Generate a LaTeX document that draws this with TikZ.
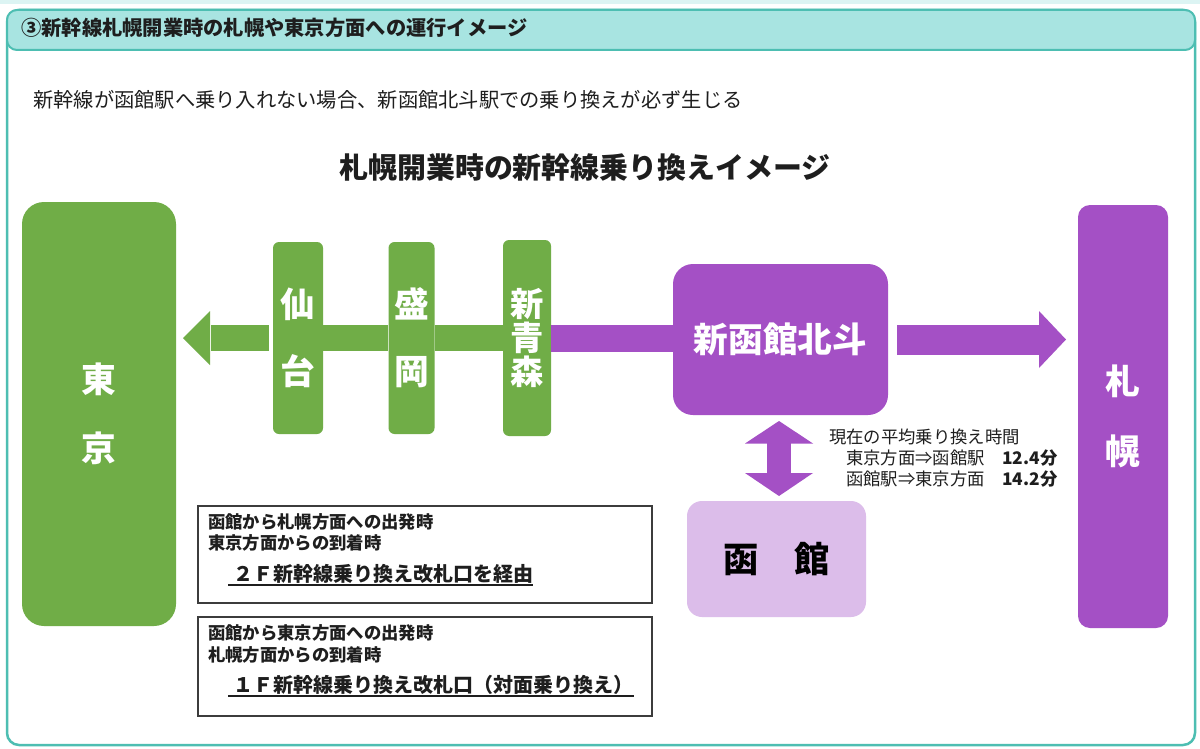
\documentclass[tikz,border=0pt]{standalone}
\usepackage{fontspec}
\setmainfont{Noto Sans CJK JP}
\usetikzlibrary{calc}
\newlength\px \setlength\px{0.75pt}
\definecolor{tgreen}{RGB}{112,173,71}
\definecolor{tpurple}{RGB}{164,80,197}
\definecolor{tlilac}{RGB}{220,189,234}
\definecolor{tteal}{RGB}{77,190,178}
\definecolor{theader}{RGB}{168,228,225}
\definecolor{tgrey}{RGB}{60,60,60}
\definecolor{ttext}{RGB}{30,30,30}
\tikzset{
  frame/.style={draw=tteal, line width=2.5\px, rounded corners=12\px},
  headerbar/.style={draw=tteal, fill=theader, line width=2\px, rounded corners=10\px},
  gstation/.style={fill=tgreen, rounded corners=6\px, inner sep=0pt, text=white, align=center},
  pstation/.style={fill=tpurple, inner sep=0pt, text=white, align=center},
  gline/.style={draw=tgreen, line width=26\px},
  pline/.style={draw=tpurple, line width=27\px},
  infobox/.style={draw=tgrey, line width=1.5\px, inner sep=0pt},
  txt/.style={anchor=west, inner sep=0pt, text=ttext},
  uline/.style={draw=ttext, line width=1.3\px},
}
\begin{document}
\begin{tikzpicture}[x=0.75pt, y=-0.75pt]
\useasboundingbox (0,0) rectangle (1200,749);
\fill[white] (0,0) rectangle (1200,749);
\fill[theader!40] (0,0) rectangle (1200,4);
% frame and header
\draw[frame] (7,10) rectangle (1195,745);
\draw[headerbar] (7,10) rectangle (1195,50);
\node[txt, font=\fontsize{15.2}{18}\selectfont\bfseries] (title) at (21,28) {③新幹線札幌開業時の札幌や東京方面への運行イメージ};
\node[txt, font=\fontsize{15.2}{18}\selectfont] (sub) at (33,100) {新幹線が函館駅へ乗り入れない場合、新函館北斗駅での乗り換えが必ず生じる};
\node[inner sep=0pt, text=ttext, font=\fontsize{21.7}{26}\selectfont\bfseries] (heading) at (585,168) {札幌開業時の新幹線乗り換えイメージ};
% stations
\node[gstation, rounded corners=22\px, minimum width=154\px, minimum height=424\px, font=\fontsize{26}{52}\selectfont\bfseries] (tokyo) at (99,414) {東\\京};
\node[gstation, minimum width=50\px, minimum height=192\px, font=\fontsize{26}{50}\selectfont\bfseries] (sendai) at (298,338) {仙\\台};
\node[gstation, minimum width=46\px, minimum height=192\px, font=\fontsize{26}{50}\selectfont\bfseries] (morioka) at (411.5,338) {盛\\岡};
\node[gstation, minimum width=48\px, minimum height=196\px, font=\fontsize{25}{25.5}\selectfont\bfseries] (shinaomori) at (527,338) {新\\青\\森};
\node[pstation, rounded corners=20\px, minimum width=215\px, minimum height=151\px, font=\fontsize{26}{30}\selectfont\bfseries] (hokuto) at (780.5,339.5) {\raisebox{3.5pt}{新函館北斗}};
\node[pstation, rounded corners=12\px, minimum width=90\px, minimum height=423\px, font=\fontsize{26}{52.5}\selectfont\bfseries] (sapporo) at (1123,416.5) {札\\幌};
\node[fill=tlilac, rounded corners=15\px, inner sep=0pt, minimum width=179\px, minimum height=116\px, text=black, font=\fontsize{26.5}{30}\selectfont\bfseries] (hakodate) at (776.5,559) {\raisebox{2.5pt}{函　館}};
% connectors
\draw[gline] (sendai.east) -- (morioka.west);
\draw[gline] (morioka.east) -- (shinaomori.west);
\draw[pline] (shinaomori.east) -- (shinaomori.east -| hokuto.west);
\coordinate (ltip) at (183,338);
\draw[gline, shorten <=4\px] (sendai.west) -- (211,338);
\fill[tgreen] (210,311) -- (ltip) -- (210,365) -- cycle;
\coordinate (rtip) at (1066,339.5);
\draw[draw=tpurple, line width=30\px, shorten <=9\px] (hokuto.east) -- (1040,339.5);
\fill[tpurple] (1039,311) -- (rtip) -- (1039,368) -- cycle;
\coordinate (dtop) at (779,421);
\coordinate (dbot) at (779,496);
\draw[draw=tpurple, line width=24\px] (779,442) -- (779,474);
\fill[tpurple] (dtop) -- (813,443.5) -- (745,443.5) -- cycle;
\fill[tpurple] (dbot) -- (745,473) -- (813,473) -- cycle;
% notes
\node[txt, font=\fontsize{13}{16}\selectfont] (n1) at (829,437) {現在の平均乗り換え時間};
\node[txt, font=\fontsize{13}{16}\selectfont] (n2) at (846,458) {東京方面⇒函館駅};
\node[txt, font=\fontsize{13}{16}\selectfont\bfseries] (n2v) at (1002,458) {12.4分};
\node[txt, font=\fontsize{13}{16}\selectfont] (n3) at (846,479) {函館駅⇒東京方面};
\node[txt, font=\fontsize{13}{16}\selectfont\bfseries] (n3v) at (1002,479) {14.2分};
% info boxes
\node[infobox, minimum width=454\px, minimum height=97\px] (box1) at (425,554.5) {};
\node[txt, font=\fontsize{13}{16}\selectfont\bfseries] (b1a) at (208,522) {函館から札幌方面への出発時};
\node[txt, font=\fontsize{13}{16}\selectfont\bfseries] (b1b) at (208,543) {東京方面からの到着時};
\node[txt, font=\fontsize{15}{18}\selectfont\bfseries] (b1c) at (233,574) {２Ｆ新幹線乗り換え改札口を経由};
\draw[uline] (228,585) -- (533,585);
\node[infobox, minimum width=454\px, minimum height=99\px] (box2) at (425,666.5) {};
\node[txt, font=\fontsize{13}{16}\selectfont\bfseries] (b2a) at (208,633) {函館から東京方面への出発時};
\node[txt, font=\fontsize{13}{16}\selectfont\bfseries] (b2b) at (208,655) {札幌方面からの到着時};
\node[txt, font=\fontsize{15}{18}\selectfont\bfseries] (b2c) at (233,685) {１Ｆ新幹線乗り換え改札口（対面乗り換え）};
\draw[uline] (228,696) -- (634,696);
\end{tikzpicture}
\end{document}
